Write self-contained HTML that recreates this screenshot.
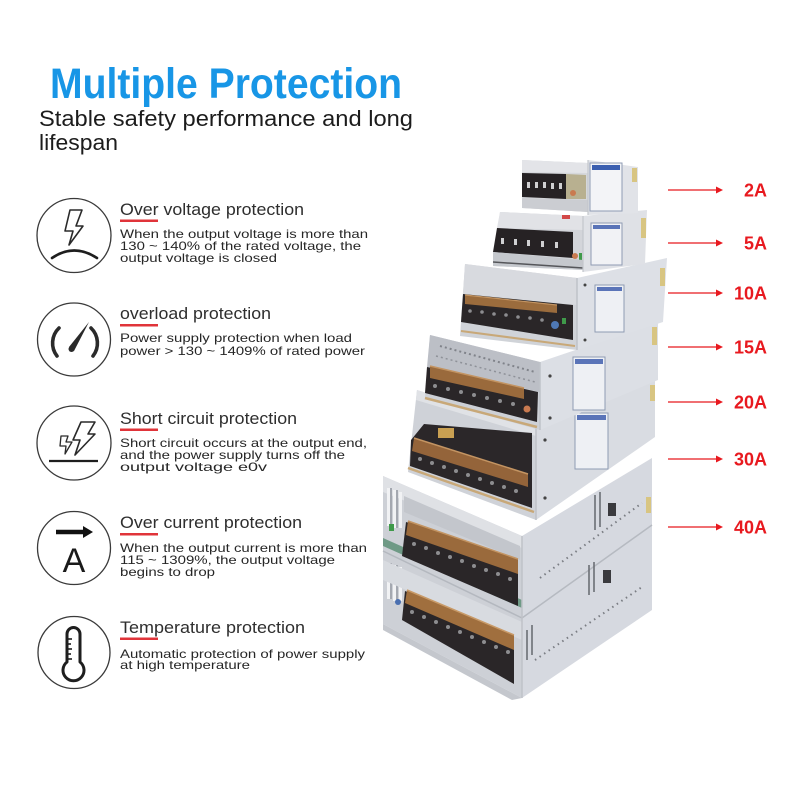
<!DOCTYPE html>
<html><head><meta charset="utf-8"><style>
html,body{margin:0;padding:0;background:#fff;}
svg{display:block;}
</style></head><body>
<svg width="788" height="788" viewBox="0 0 788 788" xmlns="http://www.w3.org/2000/svg" font-family="'Liberation Sans', Arial, sans-serif">
<rect width="788" height="788" fill="#fff"/>

<!-- Header -->
<text x="50" y="98" font-size="43" font-weight="bold" fill="#1896e6" textLength="352" lengthAdjust="spacingAndGlyphs">Multiple Protection</text>
<text x="39" y="126" font-size="22.5" fill="#1c1c1c" textLength="374" lengthAdjust="spacingAndGlyphs">Stable safety performance and long</text>
<text x="39" y="150" font-size="22.5" fill="#1c1c1c" textLength="79" lengthAdjust="spacingAndGlyphs">lifespan</text>

<!-- Circles -->
<g fill="none" stroke="#3a3a3a" stroke-width="1.3">
<circle cx="74" cy="235.5" r="37"/>
<circle cx="74" cy="339.5" r="36.5"/>
<circle cx="74" cy="443" r="37"/>
<circle cx="74" cy="548" r="36.5"/>
<circle cx="74" cy="652.5" r="36"/>
</g>

<!-- Icon 1: over voltage -->
<polygon points="70,210 82,210 76,226 83,226 69,245 73,231 65,231" fill="none" stroke="#2a2a2a" stroke-width="1.6" stroke-linejoin="round"/>
<path d="M52,258 Q74,243 97,258" fill="none" stroke="#1e1e1e" stroke-width="2.6" stroke-linecap="round"/>

<!-- Icon 2: gauge -->
<path d="M59,328 A21,21 0 0 0 57,356" fill="none" stroke="#2a2a2a" stroke-width="3.6" stroke-linecap="round"/>
<path d="M91,328 A21,21 0 0 1 93,356" fill="none" stroke="#2a2a2a" stroke-width="3.6" stroke-linecap="round"/>
<polygon points="69,347 74,351 89,322" fill="#2a2a2a"/>
<circle cx="71.5" cy="349" r="3" fill="#2a2a2a"/>

<!-- Icon 3: short circuit -->
<polygon points="81,422 95,422 88,434 95,434 75,455 80,440 73,440" fill="none" stroke="#2a2a2a" stroke-width="1.6" stroke-linejoin="round"/>
<polygon points="61,436 68,436 66,442 72,442 65,454 66,446 60,446" fill="none" stroke="#2a2a2a" stroke-width="1.3" stroke-linejoin="round"/>
<line x1="49" y1="461" x2="98" y2="461" stroke="#1e1e1e" stroke-width="2.2"/>

<!-- Icon 4: over current -->
<line x1="56" y1="532" x2="85" y2="532" stroke="#111" stroke-width="4.5"/>
<polygon points="83,526 93,532 83,538" fill="#111"/>
<text x="74" y="572" font-size="34" fill="#1a1a1a" text-anchor="middle">A</text>

<!-- Icon 5: thermometer -->
<path d="M67,662 V634 A6.5,6.5 0 0 1 80,634 V662 A10.5,10.5 0 1 1 67,662 Z" fill="none" stroke="#1e1e1e" stroke-width="3" stroke-linejoin="round"/>
<g stroke="#1e1e1e" stroke-width="1.6">
<line x1="67" y1="639" x2="72" y2="639"/>
<line x1="67" y1="644" x2="71" y2="644"/>
<line x1="67" y1="649" x2="72" y2="649"/>
<line x1="67" y1="654" x2="71" y2="654"/>
<line x1="67" y1="659" x2="72" y2="659"/>
</g>

<!-- Titles -->
<g font-size="17" fill="#2e2e2e">
<text x="120" y="215" textLength="184" lengthAdjust="spacingAndGlyphs">Over voltage protection</text>
<text x="120" y="319" textLength="151" lengthAdjust="spacingAndGlyphs">overload protection</text>
<text x="120" y="424" textLength="177" lengthAdjust="spacingAndGlyphs">Short circuit protection</text>
<text x="120" y="528" textLength="182" lengthAdjust="spacingAndGlyphs">Over current protection</text>
<text x="120" y="633" textLength="185" lengthAdjust="spacingAndGlyphs">Temperature protection</text>
</g>
<g fill="#e0343a">
<rect x="120" y="219.5" width="38" height="2.5"/>
<rect x="120" y="324" width="38" height="2.5"/>
<rect x="120" y="428.5" width="38" height="2.5"/>
<rect x="120" y="533" width="38" height="2.5"/>
<rect x="120" y="637.5" width="38" height="2.5"/>
</g>

<!-- Descriptions -->
<g font-size="12" fill="#262626">
<text x="120" y="238" textLength="248" lengthAdjust="spacingAndGlyphs">When the output voltage is more than</text>
<text x="120" y="250" textLength="241" lengthAdjust="spacingAndGlyphs">130 ~ 140% of the rated voltage, the</text>
<text x="120" y="262" textLength="157" lengthAdjust="spacingAndGlyphs">output voltage is closed</text>

<text x="120" y="342" textLength="232" lengthAdjust="spacingAndGlyphs">Power supply protection when load</text>
<text x="120" y="355" textLength="245" lengthAdjust="spacingAndGlyphs">power &gt; 130 ~ 1409% of rated power</text>

<text x="120" y="447" textLength="247" lengthAdjust="spacingAndGlyphs">Short circuit occurs at the output end,</text>
<text x="120" y="459" textLength="225" lengthAdjust="spacingAndGlyphs">and the power supply turns off the</text>
<text x="120" y="471" textLength="147" lengthAdjust="spacingAndGlyphs">output voltage e0v</text>

<text x="120" y="552" textLength="247" lengthAdjust="spacingAndGlyphs">When the output current is more than</text>
<text x="120" y="564" textLength="215" lengthAdjust="spacingAndGlyphs">115 ~ 1309%, the output voltage</text>
<text x="120" y="576" textLength="95" lengthAdjust="spacingAndGlyphs">begins to drop</text>

<text x="120" y="658" textLength="245" lengthAdjust="spacingAndGlyphs">Automatic protection of power supply</text>
<text x="120" y="669" textLength="130" lengthAdjust="spacingAndGlyphs">at high temperature</text>
</g>

<!-- ===== Product stack ===== -->
<!-- Big 40A unit (two stacked) -->
<polygon points="383,476 522,536 522,698 383,624" fill="#cdd0d6"/>
<polygon points="383,476 522,536 522,548 383,492" fill="#dfe1e5"/>
<polygon points="404,496 520,546 520,560 404,512" fill="#c3c6cc"/>
<!-- vents left -->
<g fill="#f1f2f4">
<rect x="387" y="488" width="3" height="38"/>
<rect x="393" y="490" width="3" height="38"/>
<rect x="399" y="492" width="3" height="36"/>
<rect x="387" y="563" width="3" height="36"/>
<rect x="393" y="565" width="3" height="36"/>
<rect x="399" y="567" width="3" height="34"/>
</g>
<g fill="#a4a8b0">
<rect x="390" y="488" width="2" height="38"/>
<rect x="396" y="490" width="2" height="38"/>
<rect x="390" y="563" width="2" height="36"/>
<rect x="396" y="565" width="2" height="36"/>
</g>
<!-- green pcb -->
<polygon points="383,538 522,600 522,608 383,546" fill="#6f9a86"/>
<rect x="389" y="524" width="5" height="7" fill="#3f9a4a"/>
<line x1="383" y1="551" x2="522" y2="618" stroke="#b4b8bf" stroke-width="1.5"/>
<!-- terminal B -->
<polygon points="406,522 518,560 518,606 402,556" fill="#2a2628"/>
<polygon points="408,521 518,559 518,574 406,535" fill="#9a6a3c"/>
<line x1="408" y1="521" x2="518" y2="559" stroke="#c39462" stroke-width="1.5"/>
<g fill="#8d8d90">
<circle cx="414" cy="544" r="2"/><circle cx="426" cy="548" r="2"/><circle cx="438" cy="553" r="2"/><circle cx="450" cy="557" r="2"/><circle cx="462" cy="561" r="2"/><circle cx="474" cy="566" r="2"/><circle cx="486" cy="570" r="2"/><circle cx="498" cy="574" r="2"/><circle cx="510" cy="579" r="2"/>
</g>
<!-- lower unit panel + terminal C -->
<polygon points="383,560 522,622 522,640 383,580" fill="#d8dbe0"/>
<polygon points="405,591 514,637 514,684 402,620" fill="#2a2628"/>
<polygon points="407,590 514,635 514,650 405,603" fill="#a06f3e"/>
<line x1="407" y1="590" x2="514" y2="635" stroke="#c89a68" stroke-width="1.5"/>
<circle cx="398" cy="602" r="3" fill="#4a6fb0"/>
<g fill="#8d8d90">
<circle cx="412" cy="612" r="2"/><circle cx="424" cy="617" r="2"/><circle cx="436" cy="622" r="2"/><circle cx="448" cy="627" r="2"/><circle cx="460" cy="632" r="2"/><circle cx="472" cy="637" r="2"/><circle cx="484" cy="642" r="2"/><circle cx="496" cy="647" r="2"/><circle cx="508" cy="652" r="2"/>
</g>
<polygon points="383,624 522,698 512,700 383,630" fill="#c4c7cd"/>
<!-- big side face -->
<polygon points="522,536 652,458 652,610 522,698" fill="#d6d9e0"/>
<line x1="522" y1="618" x2="652" y2="525" stroke="#b6bac1" stroke-width="1.5"/>
<line x1="522" y1="536" x2="522" y2="698" stroke="#bfc2c8" stroke-width="1.5"/>
<rect x="608" y="503" width="8" height="13" fill="#3a3a3e"/>
<rect x="603" y="570" width="8" height="13" fill="#3a3a3e"/>
<g stroke="#6b6e74" stroke-width="1.6">
<line x1="595" y1="495" x2="595" y2="530"/><line x1="600" y1="492" x2="600" y2="527"/>
<line x1="589" y1="565" x2="589" y2="595"/><line x1="594" y1="562" x2="594" y2="592"/>
<line x1="532" y1="625" x2="532" y2="655"/><line x1="527" y1="630" x2="527" y2="660"/>
</g>
<line x1="540" y1="578" x2="642" y2="503" stroke="#7a7d83" stroke-width="2" stroke-dasharray="1.5 4"/>
<line x1="535" y1="660" x2="642" y2="587" stroke="#7a7d83" stroke-width="2" stroke-dasharray="1.5 4"/>
<rect x="646" y="497" width="5" height="16" fill="#d8c582"/>

<!-- mid unit (20A/30A) -->
<polygon points="417,390 536,428 536,520 408,472" fill="#cfd2d8"/>
<polygon points="417,390 536,428 536,436 416,400" fill="#e0e2e6"/>
<polygon points="424,424 532,433 532,508 410,466 411,440" fill="#2b2729"/>
<rect x="438" y="428" width="16" height="10" fill="#c9a052"/>
<polygon points="414,438 528,474 528,487 412,451" fill="#94643a"/>
<line x1="414" y1="438" x2="528" y2="474" stroke="#c39462" stroke-width="1.5"/>
<g fill="#8d8d90">
<circle cx="420" cy="459" r="2"/><circle cx="432" cy="463" r="2"/><circle cx="444" cy="467" r="2"/><circle cx="456" cy="471" r="2"/><circle cx="468" cy="475" r="2"/><circle cx="480" cy="479" r="2"/><circle cx="492" cy="483" r="2"/><circle cx="504" cy="487" r="2"/><circle cx="516" cy="491" r="2"/>
</g>
<line x1="408" y1="468" x2="534" y2="512" stroke="#c8a878" stroke-width="2.5"/>
<polygon points="536,428 655,377 655,437 536,520" fill="#d9dce2"/>
<line x1="536" y1="428" x2="536" y2="520" stroke="#bfc2c8" stroke-width="1.5"/>
<rect x="575" y="413" width="33" height="56" fill="#eef0f4" stroke="#8f9bb3" stroke-width="1"/>
<rect x="577" y="415" width="29" height="5" fill="#5a74b8"/>
<rect x="650" y="385" width="5" height="16" fill="#d8c582"/>
<circle cx="545" cy="440" r="1.6" fill="#444"/><circle cx="545" cy="498" r="1.6" fill="#444"/>

<!-- 15A -->
<polygon points="430,335 540,362 540,430 425,398" fill="#cdd0d6"/>
<polygon points="430,335 540,362 540,392 427,367" fill="#bcbfc6"/>
<line x1="440" y1="346" x2="535" y2="372" stroke="#80838a" stroke-width="2" stroke-dasharray="2 3"/>
<line x1="436" y1="356" x2="535" y2="382" stroke="#8e9198" stroke-width="1.5" stroke-dasharray="2 3"/>
<polygon points="427,367 538,392 537,422 425,393" fill="#2a2628"/>
<polygon points="430,366 524,388 524,399 430,378" fill="#9a6a3c"/>
<line x1="430" y1="366" x2="524" y2="388" stroke="#c39462" stroke-width="1.5"/>
<g fill="#8d8d90">
<circle cx="435" cy="386" r="2"/><circle cx="448" cy="389" r="2"/><circle cx="461" cy="392" r="2"/><circle cx="474" cy="395" r="2"/><circle cx="487" cy="398" r="2"/><circle cx="500" cy="401" r="2"/><circle cx="513" cy="404" r="2"/>
</g>
<circle cx="527" cy="409" r="3.5" fill="#c97a50"/>
<line x1="425" y1="398" x2="537" y2="427" stroke="#c8a878" stroke-width="2.5"/>
<polygon points="540,362 658,322 658,380 540,430" fill="#dcdfe5"/>
<line x1="540" y1="362" x2="540" y2="430" stroke="#bfc2c8" stroke-width="1.5"/>
<rect x="573" y="357" width="32" height="53" fill="#eef0f4" stroke="#8f9bb3" stroke-width="1"/>
<rect x="575" y="359" width="28" height="5" fill="#5a74b8"/>
<rect x="652" y="327" width="5" height="18" fill="#d8c582"/>
<circle cx="550" cy="376" r="1.6" fill="#444"/><circle cx="550" cy="418" r="1.6" fill="#444"/>

<!-- 10A -->
<polygon points="465,264 577,278 577,350 460,336" fill="#d0d3d8"/>
<polygon points="465,264 577,278 577,305 463,294" fill="#d8dadf"/>
<polygon points="463,294 573,305 573,340 461,322" fill="#2a2628"/>
<polygon points="465,295 557,305 557,313 465,304" fill="#9b6c3d"/>
<line x1="465" y1="295" x2="557" y2="305" stroke="#c39462" stroke-width="1.2"/>
<g fill="#8d8d90">
<circle cx="470" cy="311" r="1.8"/><circle cx="482" cy="312" r="1.8"/><circle cx="494" cy="314" r="1.8"/><circle cx="506" cy="315" r="1.8"/><circle cx="518" cy="317" r="1.8"/><circle cx="530" cy="318" r="1.8"/><circle cx="542" cy="320" r="1.8"/>
</g>
<circle cx="555" cy="325" r="4" fill="#4f78b4"/>
<rect x="562" y="318" width="4" height="6" fill="#3f9a4a"/>
<line x1="461" y1="331" x2="575" y2="346" stroke="#c8a878" stroke-width="2"/>
<polygon points="577,278 667,258 663,322 577,350" fill="#dde0e6"/>
<line x1="577" y1="278" x2="577" y2="350" stroke="#bfc2c8" stroke-width="1.5"/>
<rect x="595" y="285" width="29" height="47" fill="#eef0f4" stroke="#8f9bb3" stroke-width="1"/>
<rect x="597" y="287" width="25" height="4" fill="#5a74b8"/>
<rect x="660" y="268" width="5" height="18" fill="#d8c582"/>
<circle cx="585" cy="285" r="1.5" fill="#444"/><circle cx="585" cy="340" r="1.5" fill="#444"/>

<!-- 5A -->
<polygon points="500,212 583,216 583,270 493,266" fill="#d3d5da"/>
<polygon points="500,212 583,216 583,230 497,228" fill="#e1e2e6"/>
<rect x="562" y="215" width="8" height="4" fill="#d24848"/>
<polygon points="497,228 573,232 573,258 493,252" fill="#262224"/>
<g fill="#d0d0d2">
<rect x="501" y="238" width="3" height="6"/><rect x="514" y="239" width="3" height="6"/><rect x="527" y="240" width="3" height="6"/><rect x="541" y="241" width="3" height="6"/><rect x="555" y="242" width="3" height="6"/>
</g>
<circle cx="575" cy="256" r="3" fill="#c97a50"/>
<rect x="579" y="253" width="3" height="7" fill="#3f9a4a"/>
<polygon points="493,252 583,260 583,270 493,266" fill="#c5c8cd"/>
<line x1="493" y1="262" x2="583" y2="268" stroke="#55565a" stroke-width="1.5"/>
<polygon points="583,216 647,210 645,264 583,272" fill="#dfe1e6"/>
<line x1="583" y1="216" x2="583" y2="272" stroke="#c3c6cc" stroke-width="1.2"/>
<rect x="591" y="223" width="31" height="42" fill="#f1f2f5" stroke="#8f9bb3" stroke-width="1"/>
<rect x="593" y="225" width="27" height="4" fill="#5a74b8"/>
<rect x="641" y="218" width="5" height="20" fill="#d8c582"/>

<!-- 2A -->
<polygon points="522,160 588,163 588,212 522,208" fill="#d5d7db"/>
<polygon points="522,160 588,163 588,173 522,172" fill="#e3e4e8"/>
<polygon points="522,173 566,174 566,199 522,197" fill="#262224"/>
<polygon points="566,174 586,175 586,199 566,199" fill="#b8b090"/>
<g fill="#d0d0d2">
<rect x="527" y="182" width="3" height="6"/><rect x="535" y="182" width="3" height="6"/><rect x="543" y="182" width="3" height="6"/><rect x="551" y="183" width="3" height="6"/><rect x="559" y="183" width="3" height="6"/>
</g>
<circle cx="573" cy="193" r="3" fill="#c97a50"/>
<polygon points="522,198 588,200 588,212 522,208" fill="#cbcdd2"/>
<polygon points="588,160 638,167 638,213 588,215" fill="#e1e3e8"/>
<line x1="588" y1="160" x2="588" y2="215" stroke="#c3c6cc" stroke-width="1.2"/>
<rect x="590" y="163" width="32" height="48" fill="#f3f4f7" stroke="#8f9bb3" stroke-width="1"/>
<rect x="592" y="165" width="28" height="5" fill="#3b5fb0"/>
<rect x="632" y="168" width="5" height="14" fill="#d8c582"/>

<!-- Arrows and labels -->
<g stroke="#e8191f" stroke-width="1.3">
<line x1="668" y1="190" x2="718" y2="190"/>
<line x1="668" y1="243" x2="718" y2="243"/>
<line x1="668" y1="293" x2="718" y2="293"/>
<line x1="668" y1="347" x2="718" y2="347"/>
<line x1="668" y1="402" x2="718" y2="402"/>
<line x1="668" y1="459" x2="718" y2="459"/>
<line x1="668" y1="527" x2="718" y2="527"/>
</g>
<g fill="#e8191f">
<polygon points="716,186.5 723,190 716,193.5"/>
<polygon points="716,239.5 723,243 716,246.5"/>
<polygon points="716,289.5 723,293 716,296.5"/>
<polygon points="716,343.5 723,347 716,350.5"/>
<polygon points="716,398.5 723,402 716,405.5"/>
<polygon points="716,455.5 723,459 716,462.5"/>
<polygon points="716,523.5 723,527 716,530.5"/>
</g>
<g font-size="18" font-weight="bold" fill="#e8191f" text-anchor="end">
<text x="767" y="196.5">2A</text>
<text x="767" y="249.5">5A</text>
<text x="767" y="299.5">10A</text>
<text x="767" y="353.5">15A</text>
<text x="767" y="408.5">20A</text>
<text x="767" y="465.5">30A</text>
<text x="767" y="533.5">40A</text>
</g>
</svg>
</body></html>
